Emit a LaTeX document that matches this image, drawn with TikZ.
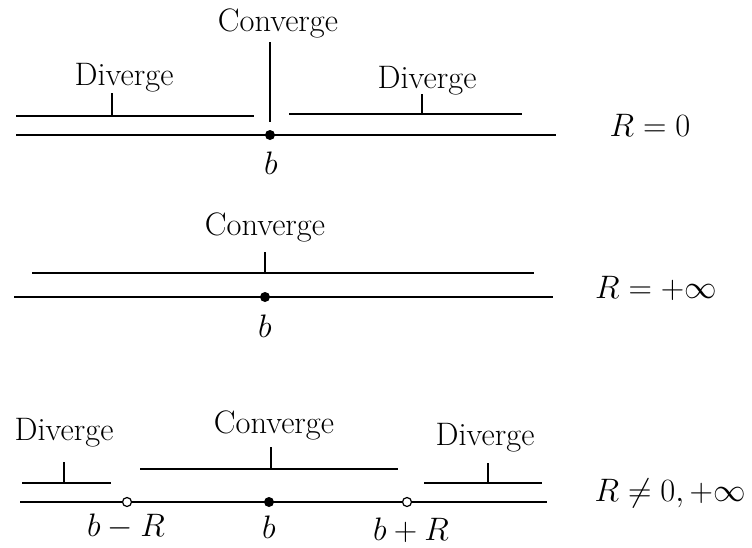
\RequirePackage{fix-cm}
\documentclass[tikz,border=0pt]{standalone}
\begin{document}
\begin{tikzpicture}[x=1pt,y=-1pt,line width=1.3pt,
  lbl/.style={anchor=base,inner sep=0pt,font=\fontsize{32.5}{38}\selectfont},
  dotfill/.style={circle,fill=black,inner sep=0pt,minimum size=10pt},
  dotopen/.style={circle,draw=black,fill=white,line width=1.2pt,inner sep=0pt,minimum size=9pt}]
\useasboundingbox (0,0) rectangle (752,547);
% ---------- Panel 1: R = 0 ----------
\coordinate (p1axL) at (16,135);
\coordinate (p1axR) at (556,135);
\draw (p1axL) -- (p1axR);
\node[dotfill] (p1b) at (270,135) {};
\coordinate (p1lA) at (16,116);
\coordinate (p1lB) at (254,116);
\coordinate (p1lT) at (112,116);
\coordinate (p1lTt) at (112,93);
\draw (p1lA) -- (p1lB);
\draw (p1lT) -- (p1lTt);
\coordinate (p1rA) at (289,114);
\coordinate (p1rB) at (522,114);
\coordinate (p1rT) at (422,114);
\coordinate (p1rTt) at (422,94);
\draw (p1rA) -- (p1rB);
\draw (p1rT) -- (p1rTt);
\coordinate (p1cT) at (270,42);
\coordinate (p1cB) at (270,122);
\draw (p1cT) -- (p1cB);
\node[lbl] (p1conv) at (278,31) {Converge};
\node[lbl] (p1divL) at (124,85) {Diverge};
\node[lbl] (p1divR) at (427,88) {Diverge};
\node[lbl] (p1blab) at (271,174) {$b$};
\node[lbl] (p1R) at (650,136) {$R=0$};
% ---------- Panel 2: R = +infinity ----------
\coordinate (p2axL) at (14,297);
\coordinate (p2axR) at (553,297);
\draw (p2axL) -- (p2axR);
\node[dotfill] (p2b) at (265,297) {};
\coordinate (p2cA) at (32,273);
\coordinate (p2cB) at (534,273);
\coordinate (p2cT) at (265,273);
\coordinate (p2cTt) at (265,252);
\draw (p2cA) -- (p2cB);
\draw (p2cT) -- (p2cTt);
\node[lbl] (p2conv) at (265,235) {Converge};
\node[lbl] (p2blab) at (265,337) {$b$};
\node[lbl] (p2R) at (656,298) {$R=+\infty$};
% ---------- Panel 3: R != 0, +infinity ----------
\coordinate (p3axL) at (20,502);
\coordinate (p3axR) at (547,502);
\draw (p3axL) -- (p3axR);
\node[dotopen] (p3m) at (127,502) {};
\node[dotfill] (p3b) at (269,502) {};
\node[dotopen] (p3p) at (407,502) {};
\coordinate (p3lA) at (22,483);
\coordinate (p3lB) at (111,483);
\coordinate (p3lT) at (64,483);
\coordinate (p3lTt) at (64,462);
\draw (p3lA) -- (p3lB);
\draw (p3lT) -- (p3lTt);
\coordinate (p3cA) at (140,469);
\coordinate (p3cB) at (398,469);
\coordinate (p3cT) at (271,469);
\coordinate (p3cTt) at (271,447);
\draw (p3cA) -- (p3cB);
\draw (p3cT) -- (p3cTt);
\coordinate (p3rA) at (424,483);
\coordinate (p3rB) at (542,483);
\coordinate (p3rT) at (488,483);
\coordinate (p3rTt) at (488,463);
\draw (p3rA) -- (p3rB);
\draw (p3rT) -- (p3rTt);
\node[lbl] (p3divL) at (64,440) {Diverge};
\node[lbl] (p3conv) at (274,433) {Converge};
\node[lbl] (p3divR) at (485,445) {Diverge};
\node[lbl] (p3bm) at (126,536) {$b-R$};
\node[lbl] (p3blab) at (269,538) {$b$};
\node[lbl] (p3bp) at (411,540) {$b+R$};
\node[lbl] (p3R) at (670,501) {$R\neq0,+\infty$};
\end{tikzpicture}
\end{document}
